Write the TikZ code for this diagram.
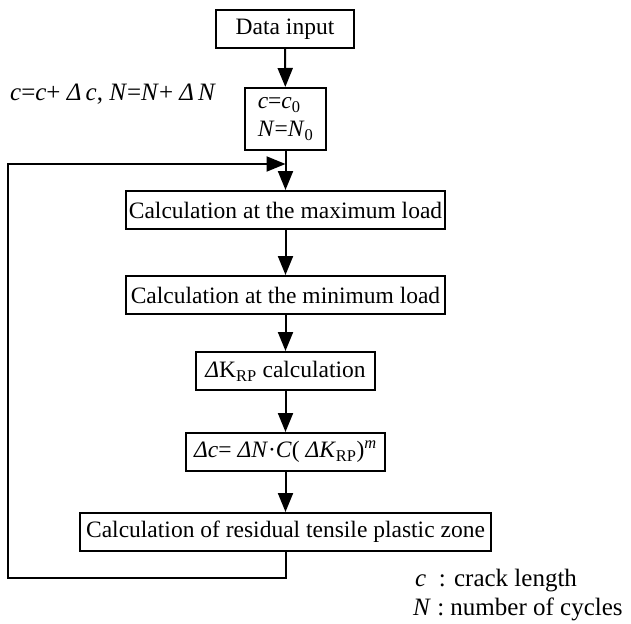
\documentclass[tikz,border=0pt]{standalone}
\usepackage{fontspec}
\setmainfont{Liberation Serif}
\usetikzlibrary{arrows.meta,positioning}

\begin{document}
\begin{tikzpicture}[x=1pt, y=-1pt,
  stepbox/.style={rectangle, draw=black, line width=2pt, inner sep=1pt, minimum height=38pt, font=\fontsize{23.5}{28}\selectfont},
  line/.style={draw, line width=2pt, -{Triangle[length=19pt, width=15pt]}},
  note/.style={font=\fontsize{25}{28}\selectfont, anchor=base west, inner sep=0pt}]
  \useasboundingbox (0,0) rectangle (631,623);

  % Boxes of the main column
  \node [stepbox, minimum width=138pt] (input) at (285,29) {Data input};
  \node [stepbox, minimum width=81pt, minimum height=62pt, align=left] (init) at (285.5,119)
    {\textit{c}=\textit{c}\textsubscript{0}\\\textit{N}=\textit{N}\textsubscript{0}};
  \node [stepbox, minimum width=319pt] (maxload) at (285.5,210) {Calculation at the maximum load};
  \node [stepbox, minimum width=319pt] (minload) at (285.5,295) {Calculation at the minimum load};
  \node [stepbox, minimum width=179pt] (dk) at (285.5,371) {\textit{Δ}K\textsubscript{RP} calculation};
  \node [stepbox, minimum width=199pt] (law) at (285.5,452)
    {\textit{Δc}= \textit{ΔN}·\textit{C}( \textit{ΔK}\textsubscript{RP})\textsuperscript{\textit{m}}};
  \node [stepbox, minimum width=411pt] (zone) at (285.5,532) {Calculation of residual tensile plastic zone};

  % Loop back
  \coordinate (join) at (285.5,164);
  \coordinate (bl) at (8,578);
  \coordinate (tl) at (8,164);
  \node [note] (update) at (10,101) {\textit{c}=\textit{c}+\ \textit{Δ\,c}, \textit{N}=\textit{N}+\ \textit{Δ\,N}};

  % Legend
  \node [note] (legc) at (415,586) {\textit{c}\ \ : crack length};
  \node [note] (legn) at (413,615) {\textit{N} : number of cycles};

  % Connectors
  \path [line] (input) -- (init);
  \path [line] (init) -- (maxload);
  \path [line] (maxload) -- (minload);
  \path [line] (minload) -- (dk);
  \path [line] (dk) -- (law);
  \path [line] (law) -- (zone);
  \path [line] (zone.south) |- (bl) -- (tl) -- (join);
\end{tikzpicture}
\end{document}
